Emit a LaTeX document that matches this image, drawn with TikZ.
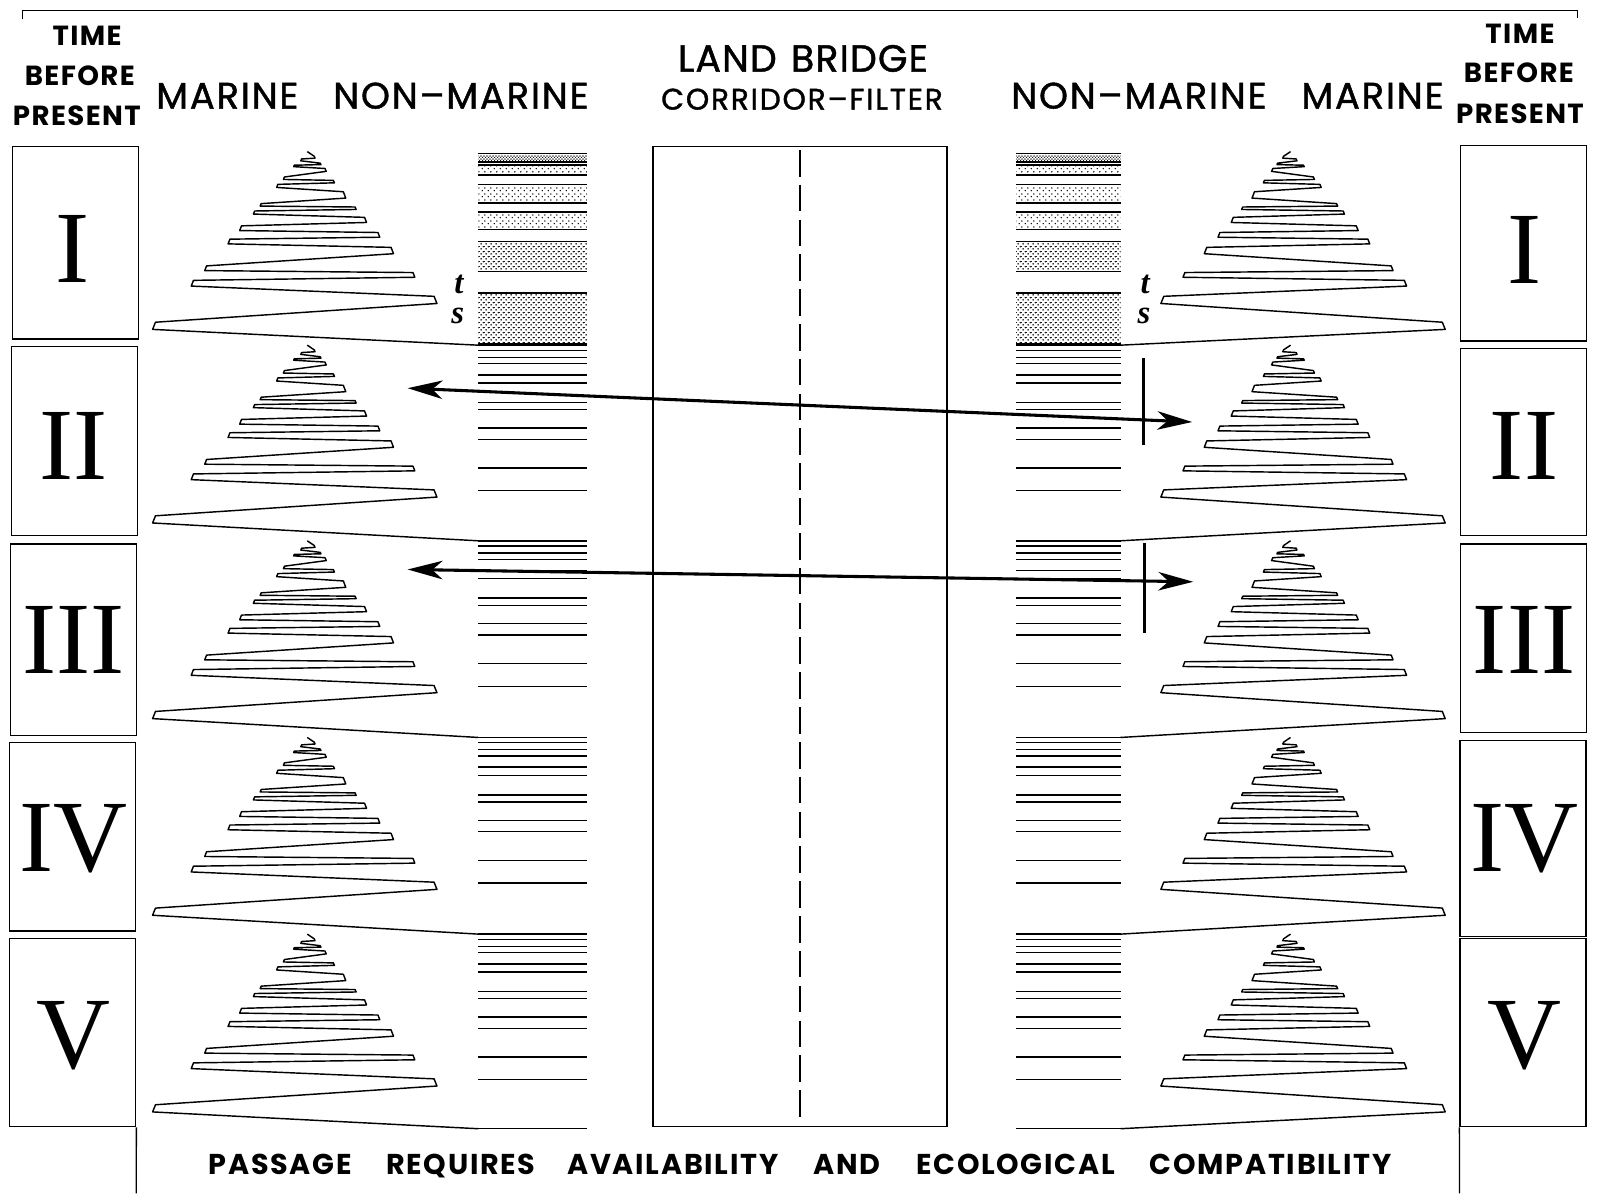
\documentclass[tikz,border=0pt]{standalone}
\usepackage{fontspec}
\setmainfont{Poppins}
\newfontfamily\romfont{Liberation Serif}
\usetikzlibrary{arrows.meta,patterns.meta}

\tikzdeclarepattern{
  name=densedots, type=colored,
  bounding box={(0pt,0pt) and (3pt,3pt)}, tile size={(3pt,3pt)},
  code={\fill[black] (0.75pt,0.75pt) circle (0.75pt); \fill[black] (2.25pt,2.25pt) circle (0.75pt);}
}
\tikzdeclarepattern{
  name=lightdots, type=colored,
  bounding box={(0pt,0pt) and (5.4pt,5.4pt)}, tile size={(5.4pt,5.4pt)},
  code={\fill[black] (1.35pt,1.35pt) circle (0.8pt); \fill[black] (4.05pt,4.05pt) circle (0.8pt);}
}
\tikzdeclarepattern{
  name=meddots, type=colored,
  bounding box={(0pt,0pt) and (4.6pt,4.6pt)}, tile size={(4.6pt,4.6pt)},
  code={\fill[black] (1.15pt,1.15pt) circle (0.8pt); \fill[black] (3.45pt,3.45pt) circle (0.8pt);}
}

\newcommand\zigpts{(0,0)
 (6.8,4.6) (7.6,6.4) (-5.5,7.2) (-6.3,9.0) (12.7,11.3) (13.3,12.7)
 (-12.7,13.3) (-13.3,14.7) (17.3,16.5) (18.5,19.3) (-22.3,24.8) (-23.3,27.2)
 (25.5,28.1) (26.5,30.5) (-28.7,32.0) (-29.9,35.0) (35.2,39.2) (37.6,45.4)
 (-45.0,50.8) (-46.0,53.2) (46.7,54.1) (47.7,56.5) (-51.4,58.0) (-52.6,61.0)
 (55.9,64.2) (57.9,69.2) (-64.2,72.5) (-66.0,77.1) (69.0,79.0) (70.8,83.6)
 (-75.5,85.5) (-77.3,90.1) (81.8,93.5) (84.2,99.7) (-98.3,111.6) (-100.1,116.2)
 (103.2,118.1) (105.0,122.7) (-111.1,125.7) (-113.3,131.3) (123.8,141.3) (126.6,148.3)
 (-148.2,166.6) (-151.0,173.6)}

\newcommand\stband[3]{%
  \fill[pattern=#3] (467,#1+2) rectangle (573,#2);
  \fill[pattern=#3] (992,#1+2) rectangle (1094,#2);
  \draw[colline] (467,#1) -- (573,#1) (467,#2) -- (573,#2) (992,#1) -- (1094,#1) (992,#2) -- (1094,#2);}

\begin{document}
\begin{tikzpicture}[x=1pt,y=-1pt,
  tbox/.style={draw, line width=1.3pt, minimum width=123pt, inner sep=0pt},
  numeral/.style={font=\romfont\fontsize{100}{100}\selectfont, anchor=base, inner sep=0pt},
  hdbold/.style={font=\fontsize{27}{30}\selectfont\bfseries\addfontfeature{LetterSpace=5}, anchor=base, inner sep=0pt},
  hdbig/.style={font=\fontsize{36}{40}\selectfont\addfontfeature{LetterSpace=5,FakeBold=1.2}, anchor=base, inner sep=0pt},
  hdmid/.style={font=\fontsize{29}{32}\selectfont\addfontfeature{LetterSpace=6,FakeBold=1.2}, anchor=base, inner sep=0pt},
  footw/.style={font=\fontsize{28}{30}\selectfont\bfseries\addfontfeature{LetterSpace=6}, anchor=base, inner sep=0pt},
  tslab/.style={font=\romfont\bfseries\itshape\fontsize{32}{32}\selectfont, anchor=base, inner sep=0pt},
  zig/.style={line width=1.4pt, line join=round},
  colline/.style={line width=1.4pt},
  arr/.style={line width=3pt, {Stealth[length=34pt,width=18pt,inset=10pt]}-{Stealth[length=34pt,width=18pt,inset=10pt]}},
  tick/.style={line width=3pt}
]
\useasboundingbox (0,0) rectangle (1568,1165);

% top frame
\coordinate (frL) at (22,19);
\coordinate (frR) at (1540,18);
\draw[line width=1.2pt] (frL) -- (22,10) -- (1540,10) -- (frR);

% headings
\node[hdbold] (timeL) at (85,44) {TIME};
\node[hdbold] (befL) at (78,83) {BEFORE};
\node[hdbold] (preL) at (75,123) {PRESENT};
\node[hdbold] (timeR) at (1484,42) {TIME};
\node[hdbold] (befR) at (1483,81) {BEFORE};
\node[hdbold] (preR) at (1484,121) {PRESENT};
\node[hdbig] (marL) at (222,106) {MARINE};
\node[hdbig] (nmarL) at (450,106) {NON–MARINE};
\node[hdbig] (nmarR) at (1112,106) {NON–MARINE};
\node[hdbig] (marR) at (1340,106) {MARINE};
\node[font=\fontsize{37}{40}\selectfont\addfontfeature{LetterSpace=3,FakeBold=1.2}, anchor=base, inner sep=0pt] (land) at (784,70) {LAND\hspace{14pt}BRIDGE};
\node[hdmid] (corr) at (783,107) {CORRIDOR–FILTER};

% left time boxes
\node[tbox, minimum height=188pt] (bL1) at (73.5,237) {};
\node[tbox, minimum height=185pt] (bL2) at (72.5,430.5) {};
\node[tbox, minimum height=187pt] (bL3) at (71.5,624.5) {};
\node[tbox, minimum height=184pt] (bL4) at (71,817) {};
\node[tbox, minimum height=184pt] (bL5) at (71,1008) {};
% right time boxes
\node[tbox, minimum height=191pt] (bR1) at (1487.5,237.5) {};
\node[tbox, minimum height=183pt] (bR2) at (1487.5,431.5) {};
\node[tbox, minimum height=184pt] (bR3) at (1487.5,623) {};
\node[tbox, minimum height=191pt] (bR4) at (1487,818.5) {};
\node[tbox, minimum height=184pt] (bR5) at (1487,1008) {};
\coordinate (bLfoot) at (133,1165);
\coordinate (bRfoot) at (1425,1165);
\draw[line width=1.3pt] (bL5.south east) -- (bLfoot);
\draw[line width=1.3pt] (bR5.south west) -- (bRfoot);

% numerals
\node[numeral] (nL1) at (71,276) {I};
\node[numeral] (nL2) at (72,468) {II};
\node[numeral] (nL3) at (72,658) {III};
\node[numeral] (nL4) at (72,851) {IV};
\node[numeral] (nL5) at (72,1043) {V};
\node[numeral] (nR1) at (1488,277) {I};
\node[numeral] (nR2) at (1488,468) {II};
\node[numeral] (nR3) at (1488,658) {III};
\node[numeral] (nR4) at (1488,851) {IV};
\node[numeral] (nR5) at (1488,1043) {V};

% land bridge
\node[draw, line width=1.3pt, minimum width=287pt, minimum height=957pt, inner sep=0pt] (bridge) at (781,621.5) {};
\draw[line width=1.2pt, dash pattern=on 26pt off 8pt, shorten >=5pt, shorten <=4pt] (bridge.north) -- (bridge.south);

% period I stratigraphy
\stband{150}{158}{densedots}
\stband{161}{171}{lightdots}
\stband{180}{198}{lightdots}
\stband{207}{224}{lightdots}
\stband{236}{265}{meddots}
\stband{286}{336}{meddots}

% columns II-V
\foreach \t in {337,528,720,912} {
  \foreach \d in {0,5,12,18,29,37,56,63,81,92,120,142} {
    \draw[colline] (467,\t+\d) -- (573,\t+\d);
    \draw[colline] (992,\t+\d) -- (1094,\t+\d);
  }
}
\draw[colline] (467,1102) -- (573,1102);
\draw[colline] (992,1102) -- (1094,1102);

% column corner coordinates
\coordinate (cL2) at (467,337);
\coordinate (cL3) at (467,528);
\coordinate (cL4) at (467,720);
\coordinate (cL5) at (467,912);
\coordinate (cL6) at (467,1102);
\coordinate (cR2) at (1094,337);
\coordinate (cR3) at (1094,528);
\coordinate (cR4) at (1094,720);
\coordinate (cR5) at (1094,912);
\coordinate (cR6) at (1094,1102);

% zigzags (marine transgression-regression cycles)
\foreach \ty/\nx in {148/2,337/3,528/4,720/5,912/6} {
  \begin{scope}[shift={(300,\ty)}]
    \draw[zig] plot coordinates {\zigpts} -- (cL\nx);
  \end{scope}
  \begin{scope}[shift={(1260,\ty)}, xscale=-1]
    \draw[zig] plot coordinates {\zigpts} -- (cR\nx);
  \end{scope}
}

% t / s labels
\node[tslab] (tL) at (448,287) {t};
\node[tslab] (sL) at (447,316) {s};
\node[tslab] (tR) at (1118,287) {t};
\node[tslab] (sR) at (1117,316) {s};

% migration arrows
\coordinate (a1w) at (398,379);
\coordinate (a1e) at (1164,412);
\coordinate (a2w) at (398,556);
\coordinate (a2e) at (1165,568);
\draw[arr] (a1w) -- (a1e);
\draw[arr] (a2w) -- (a2e);
\coordinate (k1n) at (1116,350);
\coordinate (k1s) at (1116,434);
\coordinate (k2n) at (1117,530);
\coordinate (k2s) at (1117,618);
\draw[tick] (k1n) -- (k1s);
\draw[tick] (k2n) -- (k2s);

% footer
\node[footw] (w1) at (273.5,1147) {PASSAGE};
\node[footw] (w2) at (450,1147) {REQUIRES};
\node[footw] (w3) at (657,1147) {AVAILABILITY};
\node[footw] (w4) at (827,1147) {AND};
\node[footw] (w5) at (991.5,1147) {ECOLOGICAL};
\node[footw] (w6) at (1240.5,1147) {COMPATIBILITY};
\end{tikzpicture}
\end{document}
